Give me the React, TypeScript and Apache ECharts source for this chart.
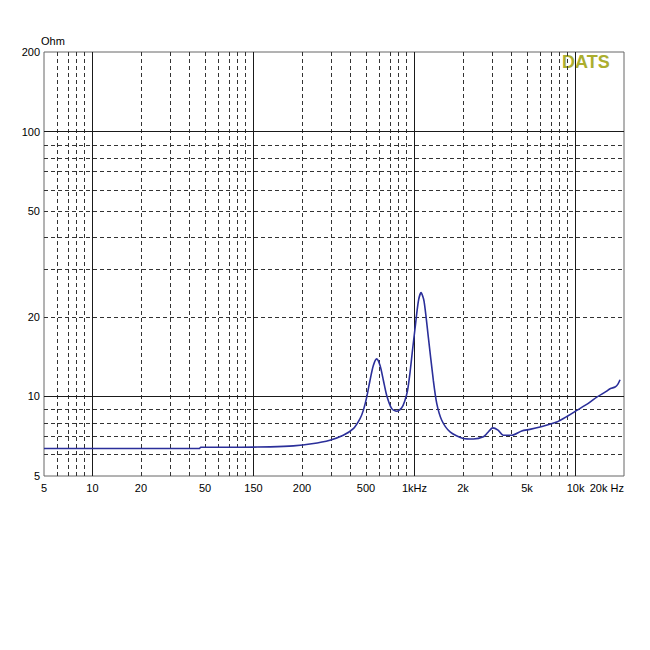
import React, { useEffect, useRef } from "react";
import * as echarts from "echarts";

// Measured impedance curve (frequency in Hz, impedance in Ohm)
const freqHz = [
  5, 10, 20, 46, 47, 70, 100, 127, 177, 230, 298, 361, 417, 459, 481, 505, 529, 555, 582,
  611, 641, 672, 722, 775, 833, 870, 905, 938, 970, 1007, 1057, 1098, 1146, 1219, 1309,
  1375, 1476, 1662, 2012, 2320, 2677, 2850, 3061, 3300, 3562, 4017, 4634, 5200, 6020,
  7643, 9000, 10180, 12000, 13550, 15260, 16500, 17600, 18300, 18900,
];
const impedanceOhm = [
  6.35, 6.35, 6.35, 6.35, 6.42, 6.42, 6.43, 6.44, 6.5, 6.62, 6.83, 7.13, 7.55, 8.24, 8.85,
  9.93, 11.48, 13.07, 13.85, 13.07, 11.48, 10.08, 8.98, 8.78, 9.05, 9.6, 10.5, 12.3, 14.8,
  18.0, 22.9, 24.65, 22.9, 16.7, 11.48, 9.38, 8.12, 7.34, 6.93, 6.9, 7.03, 7.3, 7.6, 7.45,
  7.13, 7.13, 7.4, 7.5, 7.66, 8.0, 8.45, 8.85, 9.4, 9.93, 10.37, 10.7, 10.84, 11.1, 11.55,
];

// Axis ranges
const xRangeHz = [5, 20000];
const yRangeOhm = [5, 200];

// Tick labels
const xTickValues = [5, 10, 20, 50, 100, 200, 500, 1000, 2000, 5000, 10000, 20000];
const xTickLabels = ["5", "10", "20", "50", "150", "200", "500", "1kHz", "2k", "5k", "10k", "20k Hz"];
const yTickValues = [5, 10, 20, 50, 100, 200];
const yTickLabels = ["5", "10", "20", "50", "100", "200"];

// Grid lines
const xMajorLines = [10, 100, 1000, 10000];
const xMinorLines = [
  6, 7, 8, 9, 20, 30, 40, 50, 60, 70, 80, 90, 200, 300, 400, 500, 600, 700, 800, 900,
  2000, 3000, 4000, 5000, 6000, 7000, 8000, 9000,
];
const yMajorLines = [10, 100];
const yMinorLines = [6, 7, 8, 9, 20, 30, 40, 50, 60, 70, 80, 90];

const lg = (v: number) => Math.log10(v);

function labelFor(values: number[], labels: string[], v: number) {
  let best = 0;
  let bestD = Infinity;
  values.forEach((t, i) => {
    const d = Math.abs(lg(t) - v);
    if (d < bestD) {
      bestD = d;
      best = i;
    }
  });
  return bestD < 1e-6 ? labels[best] : "";
}

export default function App() {
  const ref = useRef<HTMLDivElement>(null);

  useEffect(() => {
    if (!ref.current) return;
    const chart = echarts.init(ref.current, null, { renderer: "svg" });

    const solid = { type: "solid" as const, color: "#1a1a1a", width: 1 };
    const dashed = { type: [4, 3] as any, color: "#333", width: 1 };

    const gridLines = [
      ...xMinorLines.map((v) => ({ xAxis: lg(v), lineStyle: dashed })),
      ...yMinorLines.map((v) => ({ yAxis: lg(v), lineStyle: dashed })),
      ...xMajorLines.map((v) => ({ xAxis: lg(v), lineStyle: solid })),
      ...yMajorLines.map((v) => ({ yAxis: lg(v), lineStyle: solid })),
    ];

    const curve = freqHz.map((f, i) => [lg(f), lg(impedanceOhm[i])]);

    chart.setOption({
      animation: false,
      backgroundColor: "#ffffff",
      textStyle: { fontFamily: "Liberation Sans, Arial, sans-serif" },
      grid: {
        left: 44,
        top: 52,
        right: 26,
        bottom: 174,
        show: true,
        borderColor: "#666",
        borderWidth: 1,
        backgroundColor: "transparent",
      },
      xAxis: {
        type: "value",
        min: lg(xRangeHz[0]),
        max: lg(xRangeHz[1]),
        axisLine: { show: false },
        axisTick: { show: false },
        splitLine: { show: false },
        axisLabel: {
          customValues: xTickValues.map(lg),
          formatter: (v: number) => labelFor(xTickValues, xTickLabels, v),
          color: "#000",
          fontSize: 11,
          margin: 6,
          alignMaxLabel: "right",
          showMinLabel: true,
          showMaxLabel: true,
        },
      },
      yAxis: {
        type: "value",
        min: lg(yRangeOhm[0]),
        max: lg(yRangeOhm[1]),
        name: "Ohm",
        nameLocation: "end",
        nameGap: 4,
        nameTextStyle: { color: "#000", fontSize: 11, align: "left", padding: [0, 0, 0, -3] },
        axisLine: { show: false },
        axisTick: { show: false },
        splitLine: { show: false },
        axisLabel: {
          customValues: yTickValues.map(lg),
          formatter: (v: number) => labelFor(yTickValues, yTickLabels, v),
          color: "#000",
          fontSize: 11,
          margin: 4,
          showMinLabel: true,
          showMaxLabel: true,
        },
      },
      series: [
        {
          type: "line",
          data: [],
          z: 1,
          silent: true,
          markLine: {
            silent: true,
            symbol: "none",
            animation: false,
            label: { show: false },
            data: gridLines,
          },
        },
        {
          type: "line",
          data: curve,
          z: 5,
          showSymbol: false,
          smooth: 0.25,
          lineStyle: { color: "#2b2f9a", width: 1.6 },
        },
      ],
      graphic: [
        {
          type: "group",
          z: 100,
          children: [
            {
              type: "rect",
              shape: { x: 562, y: 53, width: 55, height: 20 },
              style: { fill: "#ffffff" },
            },
            {
              type: "text",
              x: 562,
              y: 53,
              style: {
                text: "DATS",
                fill: "#abae2e",
                font: "bold 18px Liberation Sans, Arial, sans-serif",
                textVerticalAlign: "top",
              },
            },
          ],
        },
      ],
    });

    return () => chart.dispose();
  }, []);

  return (
    <div
      ref={ref}
      style={{ position: "fixed", left: 0, top: 0, width: 650, height: 650, background: "#fff" }}
    />
  );
}
